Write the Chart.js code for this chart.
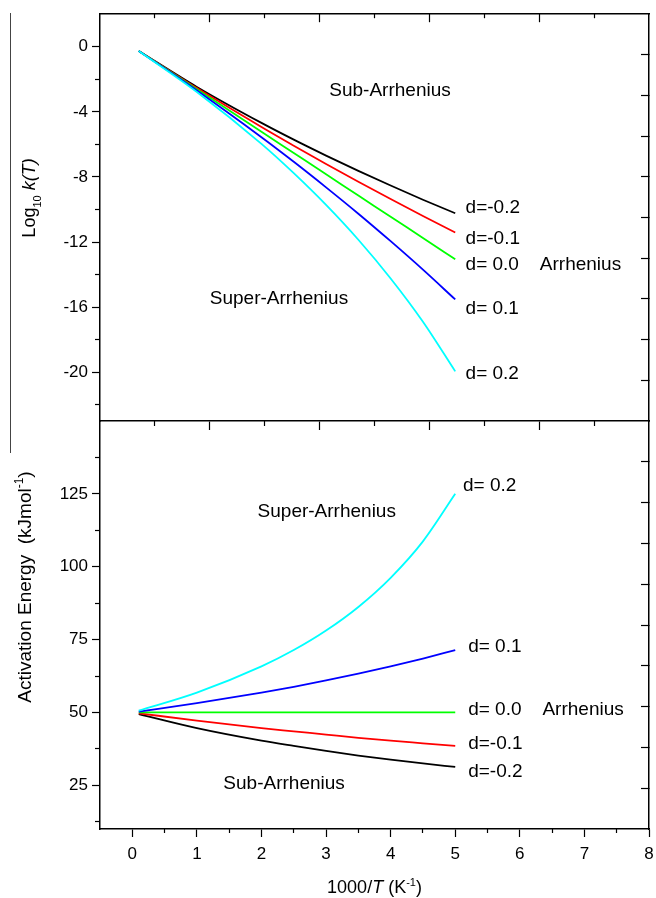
<!DOCTYPE html>
<html lang="en">
<head>
<meta charset="UTF-8">
<title>d-Arrhenius</title>
<script src="https://cdn.jsdelivr.net/npm/chart.js"></script>
<style>
  body { margin: 0; background: #fff; }
  .wrap { position: relative; width: 656px; height: 898px; }
  .wrap canvas { position: absolute; left: 0; top: 0; }
</style>
</head>
<body>
<div class="wrap">
  <canvas id="topChart" width="656" height="898"></canvas>
  <canvas id="bottomChart" width="656" height="898"></canvas>
</div>
<script>
const invT = [0.1, 1, 2, 2.5, 3, 3.5, 4, 4.5, 5];
const dNames = ['d= 0.2', 'd= 0.1', 'd= 0.0', 'd=-0.1', 'd=-0.2'];
const colors = ['#00ffff', '#0000ff', '#00ff00', '#ff0000', '#000000'];

// top panel: Log10 k(T)
const logK_p02 = [-0.26, -2.78, -5.97, -7.77, -9.72, -11.86, -14.24, -16.9, -19.95];
const logK_p01 = [-0.26, -2.69, -5.56, -7.07, -8.64, -10.26, -11.95, -13.7, -15.53];
const logK_000 = [-0.26, -2.61, -5.22, -6.53, -7.84, -9.14, -10.45, -11.75, -13.06];
const logK_m01 = [-0.26, -2.54, -4.93, -6.08, -7.21, -8.3, -9.36, -10.4, -11.42];
const logK_m02 = [-0.26, -2.47, -4.68, -5.71, -6.69, -7.63, -8.53, -9.4, -10.23];

// bottom panel: activation energy (kJ/mol)
const ea_p02 = [50.6, 56.8, 65.8, 71.4, 78.1, 86.2, 96.2, 108.7, 125.0];
const ea_p01 = [50.3, 53.2, 56.8, 58.8, 61.0, 63.3, 65.8, 68.5, 71.4];
const ea_000 = [50, 50, 50, 50, 50, 50, 50, 50, 50];
const ea_m01 = [49.7, 47.2, 44.6, 43.5, 42.4, 41.3, 40.3, 39.4, 38.5];
const ea_m02 = [49.4, 44.6, 40.3, 38.5, 36.8, 35.2, 33.8, 32.5, 31.3];

// ticks
const xTicks = [0, 1, 2, 3, 4, 5, 6, 7, 8];
const xMinorTicks = [0.5, 1.5, 2.5, 3.5, 4.5, 5.5, 6.5, 7.5];
const topYTicks = [0, -4, -8, -12, -16, -20];
const topYMinor = [-2, -6, -10, -14, -18, -22];
const botYTicks = [25, 50, 75, 100, 125];
const botYMinor = [12.5, 37.5, 62.5, 87.5, 112.5, 137.5];
// mirror axes (no labels), 10 equal divisions
const mirrorTicks = [1, 2, 3, 4, 5, 6, 7, 8, 9];
const mirrorLong = [2, 4, 6, 8];
const mirrorShort = [1, 3, 5, 7, 9];

// text inside the plots (data coordinates)
const topNotes = [
  ['Sub-Arrhenius', 3.05, -2.7],
  ['Super-Arrhenius', 1.2, -15.5],
  ['d=-0.2', 5.16, -9.9],
  ['d=-0.1', 5.16, -11.8],
  ['d= 0.0', 5.16, -13.4],
  ['Arrhenius', 6.31, -13.4],
  ['d= 0.1', 5.16, -16.1],
  ['d= 0.2', 5.16, -20.1]
];
const botNotes = [
  ['d= 0.2', 5.12, 127.7],
  ['Super-Arrhenius', 1.94, 118.9],
  ['d= 0.1', 5.2, 72.6],
  ['d= 0.0', 5.2, 50.8],
  ['Arrhenius', 6.35, 50.8],
  ['d=-0.1', 5.2, 39.4],
  ['d=-0.2', 5.2, 29.7],
  ['Sub-Arrhenius', 1.41, 25.4]
];

const FAM = "'Liberation Sans', Arial, sans-serif";
Chart.defaults.font.family = FAM;
Chart.defaults.color = '#000';

function pts(arr) { return invT.map((x, i) => ({ x: x, y: arr[i] })); }
function lines(series) {
  return series.map((s, i) => ({
    label: dNames[i], data: pts(s), borderColor: colors[i], borderWidth: 1.8,
    pointRadius: 0, fill: false, cubicInterpolationMode: 'monotone'
  }));
}
function setTicks(vals) { return s => { s.ticks = vals.map(v => ({ value: v })); }; }

// axis with tick marks only; len < 0 means inward
function tickAxis(pos, min, max, vals, len, w, h, weight, border) {
  return {
    type: 'linear', position: pos, min: min, max: max, weight: weight,
    afterBuildTicks: setTicks(vals),
    ticks: { display: false },
    grid: { drawOnChartArea: false, tickLength: len, tickColor: '#000', tickWidth: 1.2 },
    border: { display: border, color: '#000', width: 1.5 },
    afterFit: s => { if (w !== null) s.width = w; if (h !== null) s.height = h; }
  };
}

function drawRich(ctx, parts, cx, cy, size, vertical) {
  ctx.save();
  ctx.translate(cx, cy);
  if (vertical) ctx.rotate(-Math.PI / 2);
  const fontOf = p => (p.it ? 'italic ' : '') + Math.round(p.sub || p.sup ? size * 0.62 : size) + 'px ' + FAM;
  let total = 0;
  const ws = parts.map(p => { ctx.font = fontOf(p); const w = ctx.measureText(p.t).width; total += w; return w; });
  let x = -total / 2;
  ctx.fillStyle = '#000';
  ctx.textBaseline = 'alphabetic';
  parts.forEach((p, i) => {
    ctx.font = fontOf(p);
    const dy = p.sub ? size * 0.28 : p.sup ? -size * 0.4 : 0;
    ctx.fillText(p.t, x, size * 0.36 + dy);
    x += ws[i];
  });
  ctx.restore();
}

function notesPlugin(notes, extra) {
  return {
    id: 'notes',
    afterDraw(chart) {
      const ctx = chart.ctx, sx = chart.scales.x, sy = chart.scales.y;
      ctx.save();
      ctx.font = '19px ' + FAM;
      ctx.fillStyle = '#000';
      ctx.textAlign = 'left';
      ctx.textBaseline = 'middle';
      notes.forEach(n => ctx.fillText(n[0], sx.getPixelForValue(n[1]), sy.getPixelForValue(n[2])));
      ctx.restore();
      extra(ctx, chart);
    }
  };
}

const yLabelStyle = { padding: 4, font: { size: 17 }, color: '#000', callback: v => String(v) };

new Chart(document.getElementById('topChart'), {
  type: 'line',
  data: { datasets: lines([logK_p02, logK_p01, logK_000, logK_m01, logK_m02]) },
  options: {
    responsive: false, animation: false, events: [],
    layout: { padding: { top: 0, left: 0, right: 0, bottom: 477 } },
    plugins: { legend: { display: false }, tooltip: { enabled: false } },
    scales: {
      x: { type: 'linear', min: -0.5, max: 8, display: false },
      y: {
        type: 'linear', position: 'left', min: -23, max: 2, weight: 1,
        afterBuildTicks: setTicks(topYTicks),
        ticks: yLabelStyle,
        grid: { drawOnChartArea: false, tickLength: 8, tickColor: '#000', tickWidth: 1.2 },
        border: { color: '#000', width: 1.5 },
        afterFit: s => { s.width = 100; }
      },
      yMinor: tickAxis('left', -23, 2, topYMinor, 5, 0, null, 0, false),
      yR: tickAxis('right', 0, 10, mirrorTicks, -8, 7, null, 0, true),
      xT: tickAxis('top', 0, 10, mirrorLong, -8, null, 13, 1, true),
      xTm: tickAxis('top', 0, 10, mirrorShort, -4, null, 0, 0, false),
      xB: tickAxis('bottom', 0, 10, mirrorLong, 9, null, 0, 1, true),
      xBm: tickAxis('bottom', 0, 10, mirrorShort, 5, null, 0, 0, false)
    }
  },
  plugins: [notesPlugin(topNotes, (ctx) => {
    // thin rule at the far left of the figure
    ctx.save();
    ctx.strokeStyle = '#444';
    ctx.lineWidth = 1;
    ctx.beginPath();
    ctx.moveTo(10.5, 13);
    ctx.lineTo(10.5, 453);
    ctx.stroke();
    ctx.restore();
    drawRich(ctx, [{ t: 'Log' }, { t: '10', sub: true }, { t: ' ' }, { t: 'k(T)', it: true }], 29, 198, 18, true);
  })]
});

new Chart(document.getElementById('bottomChart'), {
  type: 'line',
  data: { datasets: lines([ea_p02, ea_p01, ea_000, ea_m01, ea_m02]) },
  options: {
    responsive: false, animation: false, events: [],
    layout: { padding: { top: 421, left: 0, right: 0, bottom: 0 } },
    plugins: { legend: { display: false }, tooltip: { enabled: false } },
    scales: {
      x: {
        type: 'linear', position: 'bottom', min: -0.5, max: 8, weight: 1,
        afterBuildTicks: setTicks(xTicks),
        ticks: { padding: 7, font: { size: 17 }, color: '#000', maxRotation: 0, autoSkip: false, callback: v => String(v) },
        grid: { drawOnChartArea: false, tickLength: 8, tickColor: '#000', tickWidth: 1.2 },
        border: { color: '#000', width: 1.5 },
        afterFit: s => { s.height = 69; s.paddingLeft = 0; s.paddingRight = 0; }
      },
      xMinor: tickAxis('bottom', -0.5, 8, xMinorTicks, 4, null, 0, 0, false),
      y: {
        type: 'linear', position: 'left', min: 10, max: 150, weight: 1,
        afterBuildTicks: setTicks(botYTicks),
        ticks: yLabelStyle,
        grid: { drawOnChartArea: false, tickLength: 8, tickColor: '#000', tickWidth: 1.2 },
        border: { color: '#000', width: 1.5 },
        afterFit: s => { s.width = 100; }
      },
      yMinor: tickAxis('left', 10, 150, botYMinor, 5, 0, null, 0, false),
      yR: tickAxis('right', 0, 10, mirrorTicks, -8, 7, null, 0, true)
    }
  },
  plugins: [notesPlugin(botNotes, (ctx, chart) => {
    drawRich(ctx, [{ t: 'Activation Energy  (kJmol' }, { t: '-1', sup: true }, { t: ')' }], 24, 587, 19, true);
    const a = chart.chartArea;
    drawRich(ctx, [{ t: '1000/' }, { t: 'T', it: true }, { t: ' (K' }, { t: '-1', sup: true }, { t: ')' }], (a.left + a.right) / 2, 887, 18, false);
  })]
});
</script>
</body>
</html>
